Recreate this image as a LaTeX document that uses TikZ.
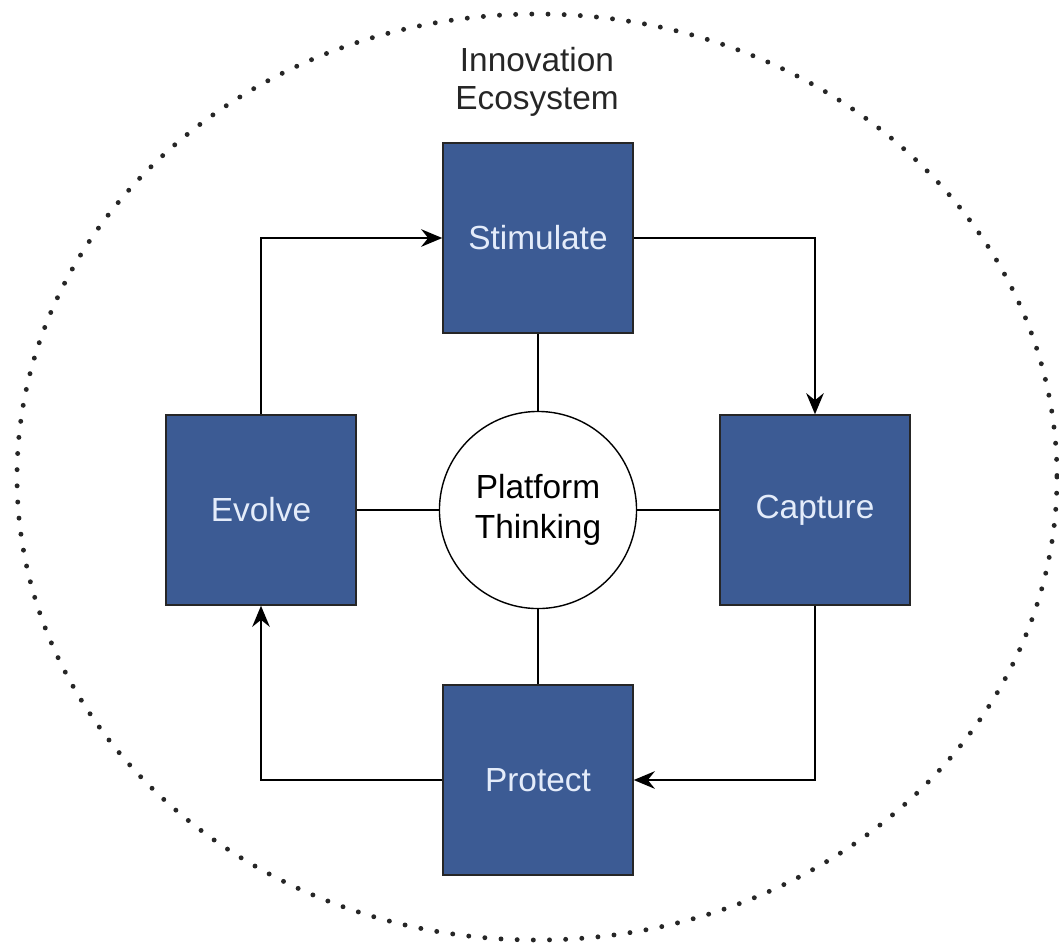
\documentclass[tikz,border=0pt]{standalone}
\usepackage{fontspec}
\setmainfont{Liberation Sans}
\usepackage{xcolor}
\usetikzlibrary{arrows.meta}
\definecolor{boxblue}{HTML}{3C5B94}
\definecolor{boxtext}{HTML}{E4ECFA}

\tikzset{
  phase/.style={draw=black!85, fill=boxblue, minimum size=1.9cm, text=boxtext, font=\fontsize{9.5}{11}\selectfont},
  hub/.style={draw=black, fill=white, circle, minimum size=1.97cm, inner sep=0pt, align=center, font=\fontsize{9.5}{11.5}\selectfont},
  flow/.style={-{Stealth[length=6pt,width=5pt,inset=2pt]}, line width=0.6pt},
  link/.style={line width=0.6pt}
}

\begin{document}
\begin{tikzpicture}[x=0.01cm, y=-0.01cm]
  \useasboundingbox (0,0) rectangle (1059,944);
  % ecosystem boundary
  \draw[black!85, line width=1.4pt, line cap=round, dash pattern=on 0pt off 4.6pt] (537,477) ellipse (520 and 463);
  \node[align=center, text=black!85, font=\fontsize{9.5}{11}\selectfont] (eco) at (537,82) {Innovation\\Ecosystem};

  \node[phase] (stim) at (538,238) {Stimulate};
  \node[phase] (evol) at (261,510) {Evolve};
  \node[phase] (capt) at (815,510) {Capture};
  \node[phase] (prot) at (538,780) {Protect};
  \node[hub] (plat) at (538,510) {Platform\\Thinking};

  % spokes
  \draw[link] (stim) -- (plat);
  \draw[link] (evol) -- (plat);
  \draw[link] (capt) -- (plat);
  \draw[link] (prot) -- (plat);

  % cycle
  \draw[flow] (stim.east) -| (capt.north);
  \draw[flow] (capt.south) |- (prot.east);
  \draw[flow] (prot.west) -| (evol.south);
  \draw[flow] (evol.north) |- (stim.west);
\end{tikzpicture}
\end{document}
